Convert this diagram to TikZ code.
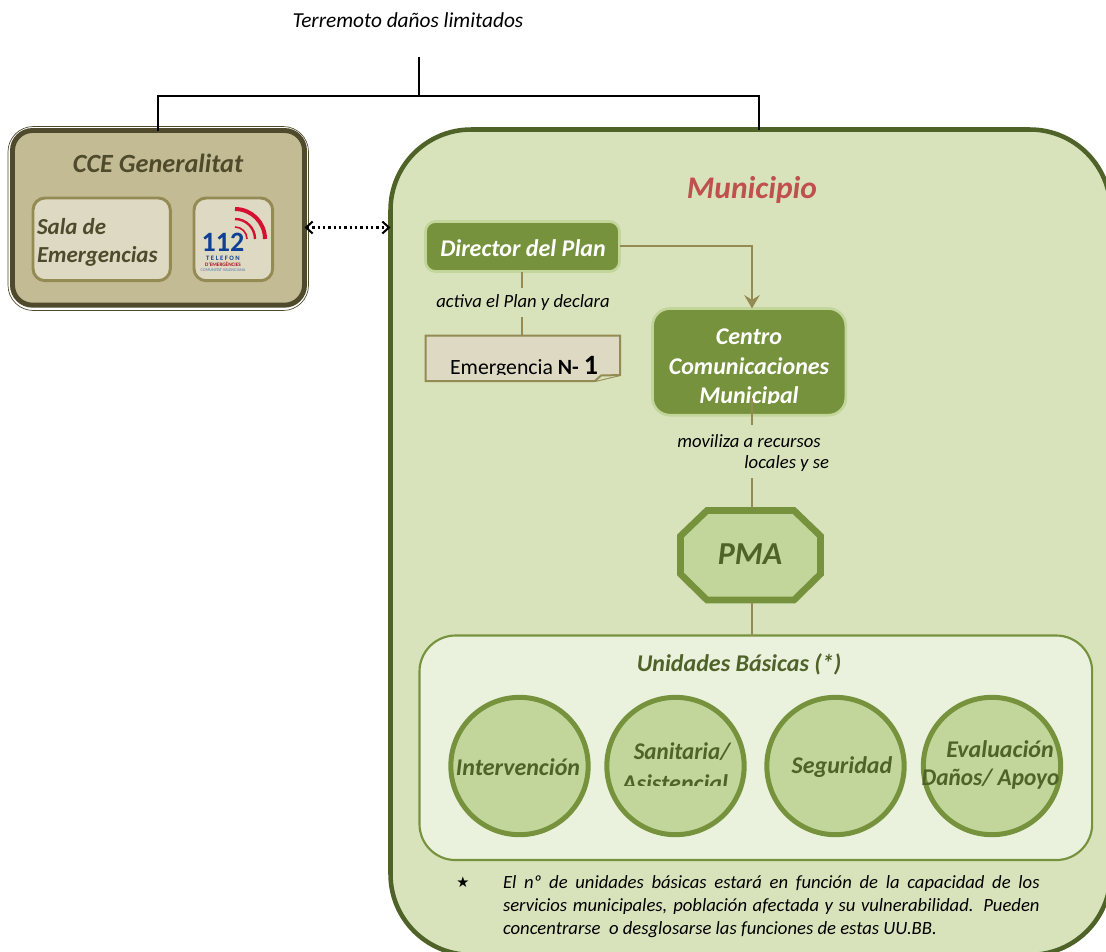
\documentclass[tikz,border=0pt]{standalone}
\usepackage{fontspec}
\setmainfont{Carlito}
\usetikzlibrary{arrows.meta}
\definecolor{darkol}{HTML}{4F4A2C}
\definecolor{tan}{HTML}{C3BB93}
\definecolor{tanlt}{HTML}{DDD9C3}
\definecolor{tanln}{HTML}{948A54}
\definecolor{munifill}{HTML}{D8E3BC}
\definecolor{muniline}{HTML}{4F6228}
\definecolor{gr}{HTML}{76923C}
\definecolor{grlt}{HTML}{C2D69B}
\definecolor{grpale}{HTML}{EAF1DD}
\definecolor{muni}{HTML}{C0504D}
\definecolor{logored}{RGB}{214,16,48}
\definecolor{logoblue}{RGB}{16,64,150}
\tikzset{
 x=0.75pt,y=-0.75pt,
 every node/.style={outer sep=0pt,inner sep=0pt},
 lab/.style={font=\fontsize{14}{16}\selectfont\itshape,text=black},
 tanbox/.style={draw=tanln,line width=2.2pt,fill=tanlt,rounded corners=9pt},
 grbox/.style={draw=grlt,line width=2pt,fill=gr},
 link/.style={draw=tanln,line width=1.5pt},
 unit/.style={draw=gr,line width=3.75pt,fill=grlt,circle,minimum size=103pt},
 ut/.style={font=\fontsize{18}{22}\selectfont\bfseries\itshape,text=muniline},
 wt/.style={font=\fontsize{18}{22}\selectfont\bfseries\itshape,text=white},
}
\begin{document}
\begin{tikzpicture}
\useasboundingbox (0,0) rectangle (1106,951);
\clip (0,0) rectangle (1106,951);
% top
\node[lab,font=\fontsize{16}{18}\selectfont\itshape] (title) at (408,20) {Terremoto daños limitados};
\coordinate (tstem) at (419,57);
\coordinate (tj) at (419,96);
\coordinate (tl) at (158,96);
\coordinate (tr) at (759,96);
% municipio
\node[draw=muniline,line width=3.4pt,fill=munifill,rounded corners=60.5pt,anchor=north west,minimum width=540pt,minimum height=619pt] (muni) at (390.5,129.5) {};
% CCE
\node[draw=darkol,line width=0.5pt,fill=white,rounded corners=19pt,anchor=north west,minimum width=225.4pt,minimum height=138pt] (cceout) at (8,126.5) {};
\node[draw=darkol,line width=3.7pt,fill=tan,rounded corners=15pt,anchor=north west,minimum width=219pt,minimum height=131pt] (cce) at (12.5,130.5) {};
\draw[black,line width=1.3pt] (tstem) -- (tj);
\draw[black,line width=1.3pt] (tl |- cce.north) -- (tl) -- (tr) -- (tr |- muni.north);
\node[font=\fontsize{19.7}{24}\selectfont\bfseries\itshape,text=darkol] (ccet) at (158,163) {CCE Generalitat};
\node[tanbox,anchor=north west,minimum width=103pt,minimum height=62pt] (sala) at (33,198) {};
\node[anchor=west,align=left,text=darkol,font=\fontsize{17.2}{21}\selectfont\bfseries\itshape] (salat) at (37,242.5) {Sala de\\Emergencias};
\node[tanbox,anchor=north west,minimum width=59pt,minimum height=62pt] (l112) at (194,198) {};
% logo
\draw[line width=3pt,draw=logored] (235,209) arc[start angle=-90,end angle=0,radius=30];
\draw[line width=1.8pt,draw=logored] (235,219) arc[start angle=-90,end angle=0,radius=20];
\draw[line width=1.2pt,draw=logored] (235,227) arc[start angle=-90,end angle=0,radius=12];
\node[text=logoblue,font=\fontsize{21}{21}\selectfont\bfseries] (n112) at (223,242.5) {112};
\node[text=logoblue,font=\fontsize{5}{5}\selectfont\bfseries] (n112b) at (223,258.5) {T E L E F O N};
\node[text=logored!80!black,font=\fontsize{3.9}{4}\selectfont\bfseries] (n112c) at (223,264.5) {D'EMERGÈNCIES};
\node[text=logoblue!70!white,font=\fontsize{3.2}{4}\selectfont] (n112d) at (223,270) {COMUNITAT VALENCIANA};
% dotted arrow
\draw[black,line width=1.9pt,dash pattern=on 1.7pt off 2.3pt,{Straight Barb[length=5pt,width=9pt,line width=1.5pt]}-{Straight Barb[length=5pt,width=9pt,line width=1.5pt]}] (cce.east |- 0,227.5) -- (muni.west |- 0,227.5);
% Municipio text
\node[text=muni,font=\fontsize{23.6}{28}\selectfont\bfseries\itshape] (munit) at (752,189.5) {Municipio};
% Director
\node[grbox,rounded corners=7.5pt,anchor=north west,minimum width=145.5pt,minimum height=37.5pt] (dir) at (425.5,221.5) {};
\node[wt] (dirt) at (523,248) {Director del Plan};
% Emergencia
\draw[draw=tanln,line width=1.5pt,fill=tanlt] (425.5,335.5) -- (620,335.5) -- (620,375) -- (595,381) -- (425.5,381) -- cycle;
\coordinate (emgtop) at (522,335);
\begin{scope}
\clip (430,340) rectangle (610,374.5);
\node[anchor=base,font=\fontsize{16.3}{18}\selectfont] (emg) at (524,374) {Emergencia \textbf{N- {\fontsize{21}{21}\selectfont 1}}};
\end{scope}
\draw[draw=tanln,line width=1.5pt,fill=munifill] (595,381) -- (601,375.5) -- (620,375);
% Director links
\node[lab] (act) at (523,303) {activa el Plan y declara};
\coordinate (st1) at (522,288);
\coordinate (st2) at (522,317);
\draw[link] (dir.south -| emgtop) -- (st1);
\draw[link] (st2) -- (emgtop);
% Centro
\node[grbox,rounded corners=13pt,anchor=north west,minimum width=145pt,minimum height=80pt] (cen) at (652.5,308.5) {};
\node[wt] (cen1) at (749,337) {Centro};
\node[wt] (cen2) at (749,366) {Comunicaciones};
\begin{scope}
\clip (660,380) rectangle (840,403);
\node[wt] (cen3) at (749,397) {Municipal};
\end{scope}
\coordinate (lk) at (752,245.5);
\draw[link,-{Stealth[length=10pt,width=11.5pt,inset=3.5pt]}] (dir.east |- lk) -- (lk) -- (lk |- cen.north);
% moviliza
\node[lab] (mov) at (749,441) {moviliza a recursos};
\node[lab,anchor=east] (loc) at (829,464) {locales y se};
\draw[link] (752,398) -- (752,425);
% PMA
\draw[draw=gr,line width=5pt,fill=grlt] (707,510.5) -- (794,510.5) -- (820.5,536) -- (820.5,574) -- (794,600) -- (707,600) -- (680.5,574) -- (680.5,536) -- cycle;
\node[text=muniline,font=\fontsize{24}{28}\selectfont\bfseries\itshape] (pma) at (750,554) {PMA};
\coordinate (pmat) at (752,508);
\coordinate (pmab) at (752,603);
\draw[link] (752,478) -- (pmat);
% UB
\node[draw=gr,line width=1.6pt,fill=grpale,rounded corners=27pt,anchor=north west,minimum width=504.5pt,minimum height=168.4pt] (ub) at (419.5,635.5) {};
\draw[link] (pmab) -- (pmab |- ub.north);
\node[ut] (ubt) at (739,664) {Unidades Básicas (*)};
\node[unit] (u1) at (519.5,766) {};
\node[unit] (u2) at (675.5,766) {};
\node[unit] (u3) at (835.5,766) {};
\node[unit] (u4) at (992,766) {};
\node[ut] (t1) at (518,767) {Intervención};
\node[ut] (t2a) at (682,752) {\scalebox{0.96}[1]{Sanitaria/}};
\begin{scope}
\clip (610,760) rectangle (740,785);
\node[ut] (t2b) at (675,783) {Asistencial};
\end{scope}
\node[ut] (t3) at (842,767) {Seguridad};
\node[ut] (t4a) at (1000,749) {Evaluación};
\node[ut] (t4b) at (990.5,779) {\scalebox{0.97}[1]{Daños/ Apoyo}};
% footnote
\node[font=\fontsize{12}{12}\selectfont] (star) at (463,882) {\fontspec{DejaVu Sans}\fontsize{11}{11}\selectfont ★};
\node[lab,anchor=north west,text width=402.5pt,align=justify,font=\fontsize{14}{17.3}\selectfont\itshape] (foot) at (503,875.5) {El nº de unidades básicas estará en función de la capacidad de los\linebreak servicios municipales, población afectada y su vulnerabilidad. Pueden\linebreak concentrarse\ \ o desglosarse las funciones de estas UU.BB.};
\end{tikzpicture}
\end{document}
